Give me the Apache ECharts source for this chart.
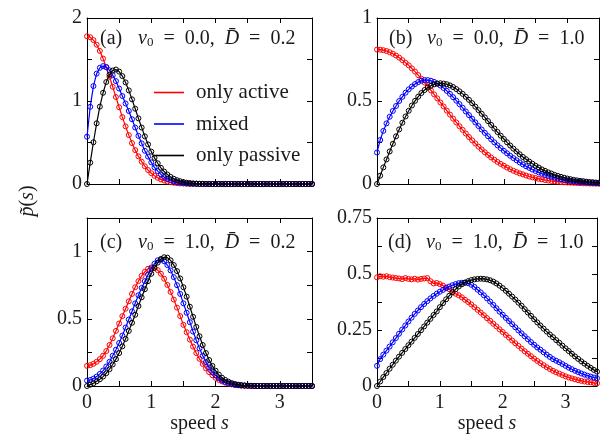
<!DOCTYPE html>
<html><head><meta charset="utf-8">
<script src="https://cdn.jsdelivr.net/npm/echarts@6/dist/echarts.min.js"></script>
<style>html,body{margin:0;padding:0;background:#fff}#c{width:600px;height:442px}</style>
</head><body><div id="c"></div>
<script>
// speed grid (x values)
const S = [0,0.05,0.1,0.15,0.2,0.25,0.3,0.35,0.4,0.45,
 0.5,0.55,0.6,0.65,0.7,0.75,0.8,0.85,0.9,0.95,
 1.0,1.05,1.1,1.15,1.2,1.25,1.3,1.35,1.4,1.45,
 1.5,1.55,1.6,1.65,1.7,1.75,1.8,1.85,1.9,1.95,
 2.0,2.05,2.1,2.15,2.2,2.25,2.3,2.35,2.4,2.45,
 2.5,2.55,2.6,2.65,2.7,2.75,2.8,2.85,2.9,2.95,
 3.0,3.05,3.1,3.15,3.2,3.25,3.3,3.35,3.4,3.45,
 3.5];

const seriesNames = ['only active','mixed','only passive'];
const panelLabels = ['(a)','(b)','(c)','(d)'];
const panelV0 = ['0.0','0.0','1.0','1.0'];
const panelD = ['0.2','1.0','0.2','1.0'];
const xTickLabels = [0,1,2,3];
const yMaxes = [2,1,1.25,0.75];
const yIntervals = [0.5,0.25,0.25,0.125];
const yTickLabels = [[0,1,2],[0,0.5,1],[0,0.5,1],[0,0.25,0.5,0.75]];

// (a) v0=0.0, D=0.2
const aActive = [1.78,1.768,1.734,1.678,1.603,1.511,1.406,1.292,1.171,1.048,
 0.925,0.806,0.694,0.589,0.493,0.408,0.333,0.269,0.214,0.168,
 0.130,0.099,0.075,0.056,0.041,0.030,0.021,0.015,0.011,0.007,
 0.005,0.003,0.002,0.001,0.001,0,0,0,0,0,
 0,0,0,0,0,0,0,0,0,0,
 0,0,0,0,0,0,0,0,0,0,
 0,0,0,0,0,0,0,0,0,0,
 0];
const aMixed = [0.57,0.93,1.18,1.33,1.40,1.42,1.41,1.37,1.31,1.24,
 1.15,1.06,0.97,0.88,0.78,0.68,0.58,0.49,0.40,0.33,
 0.26,0.20,0.155,0.115,0.085,0.062,0.045,0.032,0.022,0.015,
 0.010,0.007,0.004,0.003,0.002,0.001,0,0,0,0,
 0,0,0,0,0,0,0,0,0,0,
 0,0,0,0,0,0,0,0,0,0,
 0,0,0,0,0,0,0,0,0,0,
 0];
const aPassive = [0,0.257,0.503,0.731,0.932,1.099,1.228,1.318,1.367,1.379,
 1.354,1.300,1.224,1.128,1.020,0.907,0.791,0.680,0.574,0.477,
 0.390,0.315,0.250,0.195,0.150,0.114,0.086,0.063,0.046,0.033,
 0.023,0.016,0.011,0.007,0.005,0.003,0.002,0.001,0,0,
 0,0,0,0,0,0,0,0,0,0,
 0,0,0,0,0,0,0,0,0,0,
 0,0,0,0,0,0,0,0,0,0,
 0];
// (b) v0=0.0, D=1.0
const bActive = [0.810,0.809,0.806,0.801,0.794,0.785,0.774,0.761,0.746,0.730,
 0.715,0.696,0.677,0.656,0.634,0.611,0.588,0.564,0.540,0.516,
 0.491,0.467,0.442,0.418,0.394,0.371,0.348,0.326,0.304,0.283,
 0.263,0.244,0.225,0.208,0.191,0.175,0.160,0.146,0.133,0.121,
 0.110,0.099,0.089,0.080,0.072,0.064,0.058,0.051,0.045,0.040,
 0.036,0.031,0.028,0.024,0.021,0.018,0.016,0.014,0.012,0.010,
 0.009,0.008,0.007,0.006,0.005,0.004,0.0035,0.003,0.0025,0.002,
 0.002];
const bMixed = [0.19,0.265,0.32,0.365,0.405,0.44,0.47,0.50,0.525,0.55,
 0.57,0.587,0.602,0.614,0.622,0.626,0.626,0.622,0.615,0.605,
 0.593,0.578,0.561,0.543,0.523,0.502,0.481,0.459,0.437,0.415,
 0.393,0.371,0.349,0.328,0.308,0.288,0.269,0.251,0.233,0.216,
 0.200,0.185,0.170,0.156,0.143,0.130,0.118,0.107,0.097,0.087,
 0.078,0.070,0.062,0.055,0.049,0.043,0.038,0.033,0.029,0.025,
 0.022,0.019,0.016,0.014,0.012,0.010,0.009,0.007,0.006,0.005,
 0.004];
const bPassive = [0,0.050,0.100,0.148,0.196,0.242,0.287,0.329,0.369,0.407,
 0.441,0.473,0.501,0.526,0.548,0.566,0.581,0.592,0.600,0.605,
 0.607,0.605,0.601,0.594,0.584,0.572,0.558,0.543,0.525,0.507,
 0.487,0.466,0.445,0.423,0.401,0.379,0.356,0.334,0.313,0.291,
 0.271,0.251,0.232,0.213,0.196,0.179,0.163,0.149,0.135,0.122,
 0.110,0.099,0.088,0.079,0.070,0.063,0.055,0.049,0.043,0.038,
 0.033,0.029,0.025,0.022,0.019,0.017,0.014,0.012,0.011,0.009,
 0.008];
// (c) v0=1.0, D=0.2
const cActive = [0.15,0.155,0.165,0.18,0.20,0.225,0.26,0.305,0.355,0.41,
 0.465,0.52,0.575,0.63,0.685,0.735,0.78,0.82,0.85,0.872,
 0.882,0.878,0.862,0.835,0.798,0.752,0.70,0.643,0.583,0.52,
 0.455,0.40,0.345,0.293,0.245,0.202,0.164,0.131,0.103,0.080,
 0.061,0.046,0.034,0.025,0.018,0.012,0.008,0.005,0.003,0.002,
 0.001,0,0,0,0,0,0,0,0,0,
 0,0,0,0,0,0,0,0,0,0,
 0];
const cMixed = [0.04,0.045,0.055,0.07,0.09,0.115,0.145,0.18,0.225,0.27,
 0.32,0.375,0.435,0.495,0.555,0.615,0.675,0.73,0.78,0.83,
 0.875,0.91,0.935,0.94,0.928,0.90,0.86,0.81,0.75,0.685,
 0.615,0.545,0.475,0.405,0.34,0.28,0.225,0.178,0.138,0.105,
 0.079,0.058,0.042,0.030,0.021,0.014,0.009,0.006,0.004,0.003,
 0.002,0.001,0,0,0,0,0,0,0,0,
 0,0,0,0,0,0,0,0,0,0,
 0];
const cPassive = [0,0.01,0.02,0.035,0.05,0.07,0.095,0.125,0.16,0.20,
 0.245,0.295,0.35,0.41,0.47,0.53,0.595,0.66,0.72,0.78,
 0.835,0.88,0.918,0.945,0.958,0.955,0.935,0.90,0.855,0.80,
 0.735,0.665,0.59,0.515,0.44,0.37,0.305,0.245,0.193,0.15,
 0.114,0.085,0.062,0.045,0.032,0.022,0.015,0.01,0.007,0.004,
 0.003,0.002,0.001,0,0,0,0,0,0,0,
 0,0,0,0,0,0,0,0,0,0,
 0];
// (d) v0=1.0, D=1.0
const dActive = [0.485,0.49,0.488,0.49,0.486,0.484,0.482,0.48,0.477,0.482,
 0.478,0.476,0.479,0.475,0.478,0.48,0.482,0.468,0.458,0.46,
 0.455,0.448,0.44,0.432,0.42,0.412,0.405,0.396,0.385,0.375,
 0.364,0.352,0.34,0.328,0.316,0.303,0.291,0.278,0.266,0.253,
 0.241,0.228,0.216,0.203,0.191,0.179,0.167,0.155,0.144,0.133,
 0.122,0.112,0.102,0.093,0.084,0.076,0.068,0.061,0.055,0.049,
 0.043,0.038,0.034,0.030,0.026,0.023,0.020,0.018,0.016,0.014,
 0.012];
const dMixed = [0.09,0.12,0.14,0.158,0.176,0.195,0.214,0.233,0.252,0.27,
 0.288,0.305,0.322,0.337,0.352,0.366,0.379,0.391,0.402,0.412,
 0.421,0.429,0.437,0.444,0.45,0.455,0.459,0.461,0.461,0.459,
 0.452,0.442,0.43,0.418,0.405,0.391,0.377,0.362,0.347,0.332,
 0.318,0.304,0.29,0.276,0.262,0.248,0.235,0.222,0.209,0.196,
 0.184,0.172,0.162,0.151,0.14,0.13,0.12,0.113,0.106,0.098,
 0.09,0.082,0.075,0.068,0.062,0.056,0.051,0.046,0.042,0.038,
 0.035];
const dPassive = [0,0.02,0.04,0.058,0.077,0.095,0.113,0.131,0.148,0.165,
 0.182,0.198,0.215,0.232,0.249,0.266,0.283,0.30,0.317,0.333,
 0.352,0.37,0.387,0.403,0.418,0.432,0.444,0.454,0.462,0.468,
 0.473,0.476,0.478,0.479,0.478,0.476,0.472,0.466,0.458,0.448,
 0.437,0.425,0.412,0.399,0.386,0.372,0.358,0.343,0.328,0.313,
 0.298,0.284,0.270,0.256,0.243,0.230,0.218,0.205,0.193,0.180,
 0.168,0.156,0.144,0.132,0.121,0.11,0.1,0.09,0.081,0.072,
 0.064];

const panelData = [
  [aActive,aMixed,aPassive],
  [bActive,bMixed,bPassive],
  [cActive,cMixed,cPassive],
  [dActive,dMixed,dPassive]
];

// ---- styling ----
const COLORS = ['#ff0000','#0000ff','#000000'];
const FONT = '"Liberation Serif","DejaVu Serif",serif';
const TXT = '#1a1a1a';
const GRIDS = [
  {left:87, top:18, width:225, height:166},
  {left:377, top:18, width:222, height:166},
  {left:87, top:218, width:225, height:168},
  {left:377, top:218, width:222, height:168}
];

const has = (arr, v) => arr.some(l => Math.abs(l - v) < 1e-9);
const lineAx = {show:true, onZero:false, lineStyle:{color:'#000', width:1}};
const tickAx = {show:true, inside:true, length:5, lineStyle:{color:'#000', width:1}};
const richName = {
  r:{fontFamily:FONT, fontSize:20, color:TXT},
  i:{fontFamily:FONT, fontSize:20, fontStyle:'italic', color:TXT}
};

const xAxis = [], yAxis = [], series = [];
GRIDS.forEach((g, gi) => {
  const bottomRow = gi >= 2;
  xAxis.push({gridIndex:gi, type:'value', position:'bottom', min:0, max:3.5, interval:0.5,
    splitLine:{show:false}, axisLine:lineAx, axisTick:tickAx,
    axisLabel:{show:bottomRow, margin:7, fontFamily:FONT, fontSize:20, color:TXT,
      formatter: v => has(xTickLabels, v) ? String(v) : ''},
    name: bottomRow ? '{r|speed }{i|s}' : '', nameLocation:'middle', nameGap:24,
    nameTextStyle:{rich:richName}});
  xAxis.push({gridIndex:gi, type:'value', position:'top', min:0, max:3.5, interval:0.5,
    splitLine:{show:false}, axisLine:lineAx, axisTick:tickAx, axisLabel:{show:false}});
  yAxis.push({gridIndex:gi, type:'value', position:'left', min:0, max:yMaxes[gi], interval:yIntervals[gi],
    splitLine:{show:false}, axisLine:lineAx, axisTick:tickAx,
    axisLabel:{margin:5, fontFamily:FONT, fontSize:20, color:TXT,
      formatter: v => has(yTickLabels[gi], v) ? String(v) : ''}});
  yAxis.push({gridIndex:gi, type:'value', position:'right', min:0, max:yMaxes[gi], interval:yIntervals[gi],
    splitLine:{show:false}, axisLine:lineAx, axisTick:tickAx, axisLabel:{show:false}});
  panelData[gi].forEach((ys, k) => {
    series.push({
      type:'line', name:seriesNames[k], xAxisIndex:2*gi, yAxisIndex:2*gi,
      data: S.map((s, i) => [s, ys[i]]),
      symbol:'circle', symbolSize:5, showSymbol:true,
      itemStyle:{color:'rgba(255,255,255,0)', borderColor:COLORS[k], borderWidth:1},
      lineStyle:{color:COLORS[k], width:1.2},
      emphasis:{disabled:true}, silent:true, clip:true, z:2+k
    });
  });
});

const graphic = [];
const rich = {
  r:{font:'20px ' + FONT, fill:TXT},
  i:{font:'italic 20px ' + FONT, fill:TXT},
  s:{font:'13px ' + FONT, fill:TXT, verticalAlign:'bottom', padding:[6,0,0,0]}
};
const labelPos = [[100,39],[389,39],[100,243],[388,243]];
GRIDS.forEach((g, gi) => {
  const [lx, ly] = labelPos[gi];
  graphic.push({type:'text', x:lx, y:ly, silent:true,
    style:{text:panelLabels[gi], font:'20px ' + FONT, fill:TXT, verticalAlign:'middle'}});
  graphic.push({type:'text', x:lx + 38, y:ly, silent:true,
    style:{text:'{i|v}{s|0}{r|\u2002=\u2002' + panelV0[gi] + ',\u2002}{i|D\u0304}{r|\u2002=\u2002' + panelD[gi] + '}',
      rich:rich, verticalAlign:'middle'}});
});
graphic.push({type:'text', x:28, y:201, rotation:Math.PI/2, silent:true,
  style:{text:'{i|p\u0303}{r|(}{i|s}{r|)}', rich:rich, align:'center', verticalAlign:'middle'}});

const chart = echarts.init(document.getElementById('c'), null, {renderer:'canvas'});
chart.setOption({
  animation:false,
  backgroundColor:'#fff',
  grid: GRIDS.map(g => Object.assign({show:false}, g)),
  xAxis, yAxis, series, graphic,
  legend:{show:true, orient:'vertical', left:154, top:82, padding:0,
    itemWidth:30, itemHeight:1.6, itemGap:10.5, icon:'rect', selectedMode:false,
    textStyle:{fontFamily:FONT, fontSize:21, color:TXT, lineHeight:20, padding:[0,0,0,7]},
    data: seriesNames.map((n, k) => ({name:n, itemStyle:{color:COLORS[k], borderWidth:0}}))}
});
</script></body></html>
